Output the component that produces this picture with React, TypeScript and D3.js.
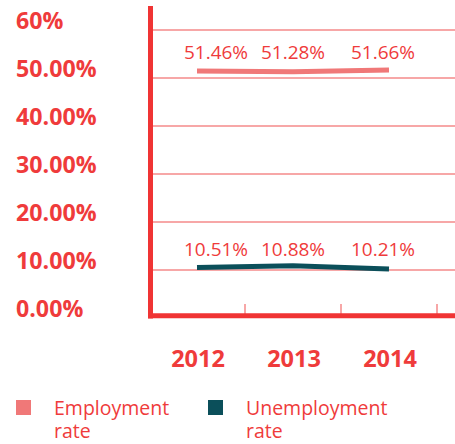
import React from "react";
import * as d3 from "d3";

const years = ["2012", "2013", "2014"];
const employment = [0.5146, 0.5128, 0.5166];
const unemployment = [0.1051, 0.1088, 0.1021];
const employmentLabels = ["51.46%", "51.28%", "51.66%"];
const unemploymentLabels = ["10.51%", "10.88%", "10.21%"];
const yTicks = [0, 0.1, 0.2, 0.3, 0.4, 0.5, 0.6];
const yTickLabels = ["0.00%", "10.00%", "20.00%", "30.00%", "40.00%", "50.00%", "60%"];
const legendItems = ["Employment\nrate", "Unemployment\nrate"];

const W = 455;
const H = 444;
const FONT = "'Open Sans', 'Noto Sans', sans-serif";
const AXIS = "#f03434";
const GRID = "#f48a8a";
const TEXT = "#ef3b3b";
const EMP = "#f07878";
const UNEMP = "#0b4f5a";
const labelDx = [19, 0, -6];

export default function App() {
  const x = d3.scaleBand<string>().domain(years).range([149, 437]).padding(0);
  const y = d3.scaleLinear().domain([0, 0.6]).range([318, 30]);
  const cx = (d: string) => (x(d) as number) + x.bandwidth() / 2;

  const line = d3
    .line<number>()
    .x((_, i) => cx(years[i]))
    .y((v) => y(v));

  const series = [
    { values: employment, labels: employmentLabels, color: EMP },
    { values: unemployment, labels: unemploymentLabels, color: UNEMP },
  ];

  return (
    <svg
      width={W}
      height={H}
      style={{ position: "absolute", left: 0, top: 0, background: "#fff" }}
      fontFamily={FONT}
    >
      {yTicks.slice(1).map((t) => (
        <line key={t} x1={150} x2={W} y1={y(t)} y2={y(t)} stroke={GRID} strokeWidth={1.3} />
      ))}
      {yTicks.map((t, i) => (
        <text key={t} x={16} y={y(t) - 1} fill={TEXT} fontSize={23.2} fontWeight={700}>
          {yTickLabels[i]}
        </text>
      ))}
      {years.map((d) => (
        <line
          key={d}
          x1={(x(d) as number) + x.bandwidth()}
          x2={(x(d) as number) + x.bandwidth()}
          y1={304}
          y2={316}
          stroke={GRID}
          strokeWidth={1.5}
        />
      ))}
      <line x1={150.5} x2={150.5} y1={6} y2={318.5} stroke={AXIS} strokeWidth={5} />
      <line x1={148} x2={W} y1={315.8} y2={315.8} stroke={AXIS} strokeWidth={5} />
      {years.map((d) => (
        <text
          key={d}
          x={cx(d) + 1}
          y={367}
          textAnchor="middle"
          fill={TEXT}
          fontSize={23.5}
          fontWeight={700}
        >
          {d}
        </text>
      ))}
      {series.map((s, k) => (
        <g key={k}>
          <path d={line(s.values) || ""} fill="none" stroke={s.color} strokeWidth={5} />
          {s.values.map((v, i) => (
            <text
              key={i}
              x={cx(years[i]) + labelDx[i]}
              y={y(s.values[0]) - 12}
              textAnchor="middle"
              fill={TEXT}
              fontSize={19}
            >
              {s.labels[i]}
            </text>
          ))}
        </g>
      ))}
      {legendItems.map((name, i) => {
        const lx = 16 + i * 192;
        const lines = name.split("\n");
        return (
          <g key={name}>
            <rect x={lx} y={400} width={15} height={15} fill={i === 0 ? EMP : UNEMP} />
            <text x={lx + 38} y={415} fill={TEXT} fontSize={19.5}>
              {lines.map((ln, j) => (
                <tspan key={j} x={lx + 38} dy={j === 0 ? 0 : 23}>
                  {ln}
                </tspan>
              ))}
            </text>
          </g>
        );
      })}
    </svg>
  );
}
